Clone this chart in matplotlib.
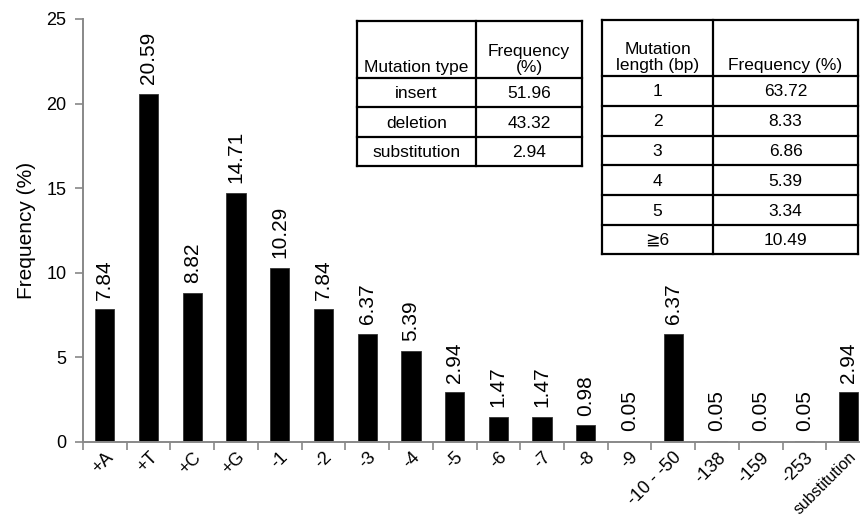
import matplotlib
matplotlib.use("Agg")
import matplotlib.pyplot as plt
from matplotlib.lines import Line2D

plt.rcParams['font.family'] = ['Liberation Sans', 'DejaVu Sans']

categories = ['+A', '+T', '+C', '+G', '-1', '-2', '-3', '-4', '-5', '-6', '-7', '-8',
              '-9', '-10 - -50', '-138', '-159', '-253', 'substitution']
values = [7.84, 20.59, 8.82, 14.71, 10.29, 7.84, 6.37, 5.39, 2.94, 1.47, 1.47, 0.98,
          0.05, 6.37, 0.05, 0.05, 0.05, 2.94]
value_labels = ['7.84', '20.59', '8.82', '14.71', '10.29', '7.84', '6.37', '5.39', '2.94',
                '1.47', '1.47', '0.98', '0.05', '6.37', '0.05', '0.05', '0.05', '2.94']
y_ticks = [0, 5, 10, 15, 20, 25]

t1_header = ['Mutation type', 'Frequency\n(%)']
t1_col1 = ['insert', 'deletion', 'substitution']
t1_col2 = ['51.96', '43.32', '2.94']

t2_header = ['Mutation\nlength (bp)', 'Frequency (%)']
t2_col1 = ['1', '2', '3', '4', '5', '\u22676']
t2_col2 = ['63.72', '8.33', '6.86', '5.39', '3.34', '10.49']

W, H = 860, 520
fig = plt.figure(figsize=(W / 100, H / 100), dpi=100)
ax = fig.add_axes([83 / W, 1 - 442 / H, 787 / W, 423 / H])

x = list(range(len(categories)))
ax.bar(x, values, width=0.44, color='black', edgecolor='#333333', linewidth=0.6)
ax.set_xlim(-0.5, len(categories) - 0.5)
ax.set_ylim(0, 25)
ax.set_yticks(y_ticks)
ax.set_yticklabels([str(v) for v in y_ticks], fontsize=13)
ax.set_ylabel('Frequency (%)', fontsize=15, labelpad=7)

ax.set_xticks(x)
xt = ax.set_xticklabels(categories, rotation=45, ha='right', rotation_mode='anchor', fontsize=13)
xt[-1].set_fontsize(11.5)
ax.tick_params(axis='x', which='major', length=0, pad=5)
ax.set_xticks([i - 0.5 for i in range(len(categories) + 1)], minor=True)
ax.tick_params(axis='x', which='minor', length=6, color='#888888', width=1.2, direction='out')
ax.tick_params(axis='y', length=6, color='#888888', width=1.2, direction='out', pad=6)

for s in ['top', 'right']:
    ax.spines[s].set_visible(False)
for s in ['left', 'bottom']:
    ax.spines[s].set_color('#888888')
    ax.spines[s].set_linewidth(1.4)

for xi, v, lab in zip(x, values, value_labels):
    ax.annotate(lab, (xi, v), xytext=(0, 7), textcoords='offset points',
                rotation=90, ha='center', va='bottom', fontsize=15)


def draw_table(x0, x1, xm, ys, header, col1, col2, fs=12.5):
    fx = lambda px: px / W
    fy = lambda py: 1 - py / H
    lw = 1.6
    for yy in ys:
        fig.add_artist(Line2D([fx(x0), fx(x1)], [fy(yy), fy(yy)], color='black', lw=lw))
    for xx in (x0, xm, x1):
        fig.add_artist(Line2D([fx(xx), fx(xx)], [fy(ys[0]), fy(ys[-1])], color='black', lw=lw))
    hy = ys[1] - 3
    fig.text(fx((x0 + xm) / 2), fy(hy), header[0], ha='center', va='bottom',
             fontsize=fs, linespacing=1.05, multialignment='center')
    fig.text(fx((xm + x1) / 2), fy(hy), header[1], ha='center', va='bottom',
             fontsize=fs, linespacing=1.05, multialignment='center')
    for i, (a, b) in enumerate(zip(col1, col2)):
        cy = (ys[i + 1] + ys[i + 2]) / 2 + 1
        fig.text(fx((x0 + xm) / 2), fy(cy), a, ha='center', va='center', fontsize=fs)
        fig.text(fx((xm + x1) / 2), fy(cy), b, ha='center', va='center', fontsize=fs)


draw_table(357, 582, 476, [21, 78, 107, 137, 166], t1_header, t1_col1, t1_col2)
draw_table(602, 858, 713, [20, 76, 106, 136, 165, 195, 225, 254], t2_header, t2_col1, t2_col2)

fig.savefig('out.png', dpi=100)
